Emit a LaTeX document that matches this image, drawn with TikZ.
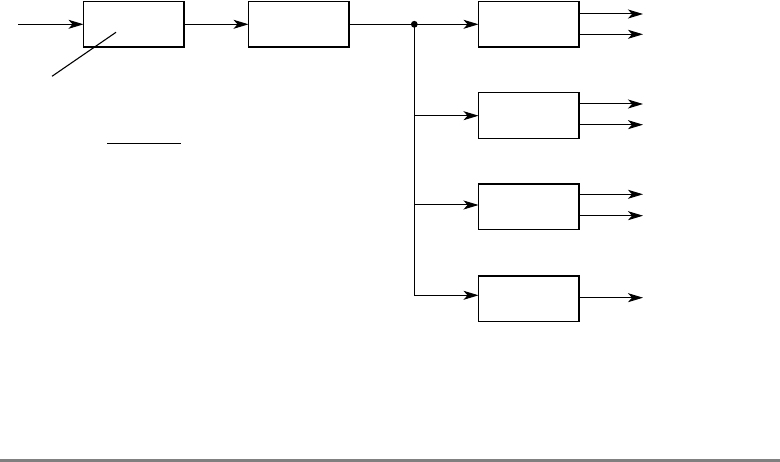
\documentclass[tikz,border=0pt]{standalone}
\usetikzlibrary{arrows.meta}
\begin{document}
\begin{tikzpicture}[x=1pt,y=-1pt,
  blk/.style={draw=black,line width=1.6pt,fill=white,minimum width=100.5pt,
    minimum height=45.8pt,inner sep=0pt,outer sep=0pt},
  conn/.style={line width=1pt},
  arr/.style={conn,-{Stealth[length=15pt,width=9pt,inset=4pt]}}]
\useasboundingbox (0,0) rectangle (780,462);
\fill[white] (0,0) rectangle (780,462);
\fill[black!50] (0,459) rectangle (780,462);
% boxes
\node[blk] (b1) at (133.75,24.3) {};
\node[blk] (b2) at (298.75,24.3) {};
\node[blk] (b3) at (528.75,24.3) {};
\node[blk] (b4) at (528.75,115.6) {};
\node[blk] (b5) at (528.75,206.8) {};
\node[blk] (b6) at (528.75,298.8) {};
% coordinates
\coordinate (in) at (18,24.3);
\coordinate (j) at (414.3,24.3);
\coordinate (v6) at (414.3,295.3);
% connectors
\draw[arr] (in) -- (b1.west);
\draw[arr] (b1.east) -- (b2.west);
\draw[conn] (b2.east) -- (j);
\draw[arr] (j) -- (b3.west);
\draw[conn] (j) -- (v6);
\draw[arr] (414.3,115.7) coordinate (v4) -- (v4 -| b4.west);
\draw[arr] (414.3,205) coordinate (v5) -- (v5 -| b5.west);
\draw[arr] (v6) -- (v6 -| b6.west);
\fill (j) circle (3.4pt);
% outputs
\foreach \n/\y in {b3/14,b3/34.3,b4/104,b4/124.7,b5/194.3,b5/215.7,b6/297.7}
  \draw[arr] (\n.east |- 0,\y) -- (643,\y);
% diagonal and bar
\coordinate (d1) at (52,76.3);
\coordinate (d2) at (116,32.3);
\draw[line width=1.1pt] (d1) -- (d2);
\coordinate (h1) at (107,143.3);
\coordinate (h2) at (181,143.3);
\draw[line width=1.1pt] (h1) -- (h2);
\end{tikzpicture}
\end{document}
